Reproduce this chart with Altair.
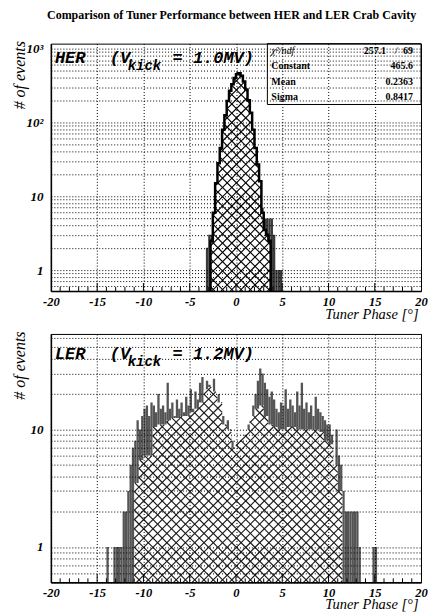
import math
import altair as alt
import pandas as pd

# ---------------- data ----------------
TITLE = "Comparison of Tuner Performance between HER and LER Crab Cavity"
X_LABEL = "Tuner Phase [°]"
Y_LABEL = "# of events"
X_TICKS = [-20, -15, -10, -5, 0, 5, 10, 15, 20]

# HER: solid grey histogram (bin starts at -3.25, width 0.25)
HER_GRAY_START = -3.25
HER_GRAY_WIDTH = 0.25
HER_GRAY = [2, 3, 3, 6, 15, 28, 45, 80, 125, 195, 270, 330, 400, 480, 465, 430,
            360, 280, 200, 135, 80, 45, 27, 16, 7, 5, 5, 5, 5, 3, 1, 1, 1]
# HER: hatched histogram (bin starts at -2.75, width 0.25)
HER_HATCH_START = -2.75
HER_HATCH_WIDTH = 0.25
HER_HATCH = [2.5, 6, 15, 28, 45, 80, 125, 195, 270, 330, 400, 450, 465, 430,
             360, 280, 200, 135, 80, 45, 27, 16, 6, 3.5, 3, 2.5]

# LER: solid grey histogram (bin starts at -14.0, width 0.25)
LER_GRAY_START = -14.0
LER_GRAY_WIDTH = 0.25
LER_GRAY = [1, 0, 0, 1, 1, 1, 1, 2,
            2, 3, 5, 7, 8, 12, 10, 13,
            15, 16, 13, 17, 16, 14, 20, 15,
            16, 14, 25, 15, 17, 13, 18, 15,
            17, 14, 19, 16, 22, 15, 21, 18,
            25, 28, 22, 26, 24, 20, 27, 18,
            20, 15, 13, 11, 12, 9, 8, 7,
            3, 6, 7, 8, 8, 11, 12, 16,
            20, 26, 33, 30, 25, 22, 19, 21,
            18, 15, 14, 17, 16, 22, 15, 18,
            16, 14, 21, 16, 25, 15, 17, 14,
            16, 13, 19, 15, 14, 13, 12, 11,
            11, 9, 4.5, 10, 6, 5, 3, 2,
            2, 2, 2, 2, 2, 1, 0, 0,
            0, 0, 0, 1, 1, 0]
# LER: hatched histogram (bin starts at -11.0, width 0.5)
LER_HATCH_START = -11.0
LER_HATCH_WIDTH = 0.5
LER_HATCH = [3.5, 5.5, 6, 6, 10.5, 11, 11, 12, 12.5, 12.5, 13, 13, 14, 15, 17,
             22, 23, 21, 17, 11, 10, 7, 8, 9, 10, 13, 15, 16, 13, 11, 10.5, 10,
             10, 10.5, 10.5, 10, 10, 10, 10, 10, 9.5, 8, 7.5, 5, 3]

HER_STAT_NAMES = ["Constant", "Mean", "Sigma"]
HER_STAT_VALUES = ["465.6", "0.2363", "0.8417"]
HER_CHI2 = "257.1"
HER_NDF = "69"

HER_YDOMAIN = [0.52, 1170]
LER_YDOMAIN = [0.5, 65]

# ---------------- layout / style ----------------
PW = 371
PH_TOP = 248
PH_BOT = 249
XDOM = [-20, 20]
XS = alt.Scale(domain=XDOM, nice=False, zero=False)
SERIF = "Liberation Serif"
MONO = "Liberation Mono"
HATCH_PERIOD = 9.3  # px between parallel hatch lines (horizontal)


def y_grid_values(lo, hi):
    vals = []
    for e in range(-1, 4):
        for m in range(1, 10):
            v = round(m * 10 ** e, 6)
            if lo - 1e-9 <= v <= hi:
                vals.append(v)
    return vals


def x_axis(title_y):
    return alt.Axis(values=X_TICKS, grid=True, gridColor="black", gridDash=[1, 2],
                    gridWidth=1, gridOpacity=1, ticks=False, domainColor="black",
                    domainWidth=1.5, labelFont=SERIF, labelFontStyle="italic",
                    labelFontWeight="bold", labelFontSize=12.5, labelColor="black",
                    labelPadding=4, labelFlush=False, labelOverlap=False,
                    labelExpr="'' + datum.value",
                    title=X_LABEL, titleFont=SERIF, titleFontStyle="italic",
                    titleFontWeight="normal", titleFontSize=14.5, titleColor="black",
                    titleAlign="right", titleBaseline="alphabetic", titleX=PW - 3,
                    titleY=title_y, zindex=1)


def y_axis(vals, expr):
    return alt.Axis(values=vals, grid=True, gridColor="black", gridDash=[1, 2],
                    gridWidth=1, gridOpacity=1, ticks=False, domainColor="black",
                    domainWidth=1.5, labelFont=SERIF, labelFontStyle="italic",
                    labelFontWeight="bold", labelFontSize=13, labelColor="black",
                    labelPadding=8, labelOverlap=False, labelExpr=expr,
                    title=Y_LABEL, titleFont=SERIF, titleFontStyle="italic",
                    titleFontWeight="normal", titleFontSize=16, titleColor="black",
                    titleAlign="right", titleBaseline="alphabetic", titleAngle=270,
                    titleX=-26, titleY=-3, zindex=1)


def hatch_segments(start, width, values, ydom, ph):
    """Cross-hatch texture for a step histogram: 45-degree line pieces that lie
    inside the histogram, returned in data units (drawn through the scales)."""
    lmin, lmax = math.log10(ydom[0]), math.log10(ydom[1])
    ppu = PW / (XDOM[1] - XDOM[0])

    def to_px_x(x):
        return (x - XDOM[0]) * ppu

    def to_px_y(v):
        return ph * (lmax - math.log10(v)) / (lmax - lmin)

    def to_dx(px):
        return px / ppu + XDOM[0]

    def to_dv(py):
        return 10 ** (lmax - py / ph * (lmax - lmin))

    bins = [(to_px_x(start + i * width), to_px_x(start + (i + 1) * width),
             to_px_y(v)) for i, v in enumerate(values)]
    xa0, xb1 = bins[0][0], bins[-1][1]
    tmin = min(b[2] for b in bins)
    segs = []

    def merge(iv):
        out = []
        for lo, hi in iv:
            if out and lo - out[-1][1] < 1e-6:
                out[-1][1] = hi
            else:
                out.append([lo, hi])
        return out

    # "/" lines : x + y = c
    c = math.floor((xa0 + tmin) / HATCH_PERIOD) * HATCH_PERIOD
    while c <= xb1 + ph:
        iv = []
        for xa, xb, t in bins:
            lo, hi = max(xa, c - ph), min(xb, c - t)
            if hi > lo:
                iv.append((lo, hi))
        for lo, hi in merge(iv):
            segs.append((to_dx(lo), to_dv(c - lo), to_dx(hi), to_dv(c - hi)))
        c += HATCH_PERIOD
    # "\" lines : x - y = c
    c = math.floor((xa0 - ph) / HATCH_PERIOD) * HATCH_PERIOD
    while c <= xb1 - tmin:
        iv = []
        for xa, xb, t in bins:
            lo, hi = max(xa, c + t), min(xb, c + ph)
            if hi > lo:
                iv.append((lo, hi))
        for lo, hi in merge(iv):
            segs.append((to_dx(lo), to_dv(lo - c), to_dx(hi), to_dv(hi - c)))
        c += HATCH_PERIOD
    return pd.DataFrame(segs, columns=["xa", "va", "xb", "vb"])


def panel(gray_start, gray_w, gray, hatch_start, hatch_w, hatch, ydom, ph,
          yexpr, gray_color, line_color, outline, label_txt, kick_txt, base_y,
          title_y):
    ys = alt.Scale(type="log", domain=ydom, nice=False)
    yvals = y_grid_values(ydom[0], ydom[1])
    xa = x_axis(title_y)
    ya = y_axis(yvals, yexpr)
    base = ydom[0]

    gdf = pd.DataFrame({
        "x0": [gray_start + i * gray_w for i in range(len(gray))],
        "x1": [gray_start + (i + 1) * gray_w for i in range(len(gray))],
        "v": gray,
    })
    gdf = gdf[gdf["v"] > 0]
    gdf["base"] = base
    gray_layer = alt.Chart(gdf).mark_rect(color=gray_color, clip=True).encode(
        x=alt.X("x0:Q", scale=XS, axis=xa),
        x2="x1:Q",
        y=alt.Y("v:Q", scale=ys, axis=ya),
        y2="base:Q",
    )

    hx = [hatch_start + i * hatch_w for i in range(len(hatch))]
    hend = hatch_start + len(hatch) * hatch_w
    hdf = pd.DataFrame({"x": hx + [hend], "v": hatch + [hatch[-1]]})
    hdf["base"] = base
    white_layer = alt.Chart(hdf).mark_area(interpolate="step-after", color="white",
                                           opacity=1, clip=True).encode(
        x=alt.X("x:Q", scale=XS, axis=xa),
        y=alt.Y("v:Q", scale=ys, axis=ya),
        y2="base:Q",
    )
    sdf = hatch_segments(hatch_start, hatch_w, hatch, ydom, ph)
    hatch_layer = alt.Chart(sdf).mark_rule(color=line_color, strokeWidth=1.15,
                                           clip=True).encode(
        x=alt.X("xa:Q", scale=XS, axis=xa),
        y=alt.Y("va:Q", scale=ys, axis=ya),
        x2="xb:Q",
        y2="vb:Q",
    )

    layers = [gray_layer, white_layer, hatch_layer]

    if outline:
        odf = pd.DataFrame({
            "x": [hatch_start] + hx + [hend, hend],
            "v": [base] + hatch + [hatch[-1], base],
        })
        odf["i"] = range(len(odf))
        layers.append(
            alt.Chart(odf).mark_line(interpolate="step-after", color="black",
                                     strokeWidth=2.5, clip=True).encode(
                x=alt.X("x:Q", scale=XS, axis=xa),
                y=alt.Y("v:Q", scale=ys, axis=ya),
                order="i:Q",
            )
        )

    # inward ticks on the x axis
    tdf = pd.DataFrame({"t": [t for t in range(-19, 20) if t % 5 != 0]})
    layers.append(
        alt.Chart(tdf).mark_rule(color="black", strokeWidth=1).encode(
            x=alt.X("t:Q", scale=XS, axis=xa),
            y=alt.value(ph), y2=alt.value(ph - 4),
        )
    )
    mdf = pd.DataFrame({"t": [-15, -10, -5, 0, 5, 10, 15]})
    layers.append(
        alt.Chart(mdf).mark_rule(color="black", strokeWidth=1).encode(
            x=alt.X("t:Q", scale=XS, axis=xa),
            y=alt.value(ph), y2=alt.value(ph - 8),
        )
    )

    # in-plot label  "HER  (V_kick = 1.0MV)"
    big = pd.DataFrame({"t": [label_txt, "(V", kick_txt],
                        "px": [4, 59, 122], "py": [base_y, base_y, base_y]})
    layers.append(
        alt.Chart(big).mark_text(font=MONO, fontSize=17, fontWeight="bold",
                                 fontStyle="italic", align="left",
                                 baseline="alphabetic", color="black").encode(
            text="t:N", x=alt.X("px:Q", scale=None), y=alt.Y("py:Q", scale=None))
    )
    sub = pd.DataFrame({"t": ["kick"], "px": [77], "py": [base_y + 7]})
    layers.append(
        alt.Chart(sub).mark_text(font=MONO, fontSize=14, fontWeight="bold",
                                 fontStyle="italic", align="left",
                                 baseline="alphabetic", color="black").encode(
            text="t:N", x=alt.X("px:Q", scale=None), y=alt.Y("py:Q", scale=None))
    )
    return layers


# ---------------- HER panel ----------------
her_layers = panel(HER_GRAY_START, HER_GRAY_WIDTH, HER_GRAY, HER_HATCH_START,
                   HER_HATCH_WIDTH, HER_HATCH, HER_YDOMAIN, PH_TOP,
                   "datum.value == 1000 ? '10³' : datum.value == 100 ? '10²' : "
                   "datum.value == 10 ? '10' : datum.value == 1 ? '1' : ''",
                   "#3a3a3a", "#000000", True, "HER", "= 1.0MV)", 19, 28)

# stats box
box = pd.DataFrame({"a": [0]})
her_layers.append(
    alt.Chart(box).mark_rect(fillOpacity=0, stroke="black", strokeWidth=1).encode(
        x=alt.value(217), x2=alt.value(PW), y=alt.value(0), y2=alt.value(61))
)
stat_lab = pd.DataFrame({"t": HER_STAT_NAMES, "px": [221, 221, 221], "py": [25, 41, 56]})
her_layers.append(
    alt.Chart(stat_lab).mark_text(font=SERIF, fontSize=10, fontWeight="bold",
                                  align="left", baseline="alphabetic",
                                  color="black").encode(
        text="t:N", x=alt.X("px:Q", scale=None), y=alt.Y("py:Q", scale=None))
)
chi_lab = pd.DataFrame({"t": ["χ²/ndf"], "px": [221], "py": [10]})
her_layers.append(
    alt.Chart(chi_lab).mark_text(font=SERIF, fontSize=10, fontStyle="italic",
                                 align="left", baseline="alphabetic",
                                 color="black").encode(
        text="t:N", x=alt.X("px:Q", scale=None), y=alt.Y("py:Q", scale=None))
)
stat_val = pd.DataFrame({"t": [HER_CHI2, HER_NDF] + HER_STAT_VALUES,
                         "px": [336, 363, 363, 363, 363],
                         "py": [10, 10, 25, 41, 56]})
her_layers.append(
    alt.Chart(stat_val).mark_text(font=SERIF, fontSize=10, fontWeight="bold",
                                  align="right", baseline="alphabetic",
                                  color="black").encode(
        text="t:N", x=alt.X("px:Q", scale=None), y=alt.Y("py:Q", scale=None))
)
slash = pd.DataFrame({"t": ["/"], "px": [346], "py": [10]})
her_layers.append(
    alt.Chart(slash).mark_text(font=SERIF, fontSize=10, fontStyle="italic",
                               align="center", baseline="alphabetic",
                               color="black").encode(
        text="t:N", x=alt.X("px:Q", scale=None), y=alt.Y("py:Q", scale=None))
)

top = alt.layer(*her_layers).properties(width=PW, height=PH_TOP)

# ---------------- LER panel ----------------
ler_layers = panel(LER_GRAY_START, LER_GRAY_WIDTH, LER_GRAY, LER_HATCH_START,
                   LER_HATCH_WIDTH, LER_HATCH, LER_YDOMAIN, PH_BOT,
                   "datum.value == 10 ? '10' : datum.value == 1 ? '1' : ''",
                   "#555555", "#1a1a1a", False, "LER", "= 1.2MV)", 25, 26)
bottom = alt.layer(*ler_layers).properties(width=PW, height=PH_BOT)

chart = alt.vconcat(
    top, bottom, spacing=8,
    title=alt.Title(TITLE, font=SERIF, fontSize=12, fontWeight="bold",
                    color="black", anchor="middle", dx=12, offset=18),
).properties(
    padding={"left": 3, "top": 0, "right": 0, "bottom": 0},
    background="white",
).configure_view(stroke="black", strokeWidth=1)

chart.save("out.html", embed_options={"renderer": "svg", "actions": False})
